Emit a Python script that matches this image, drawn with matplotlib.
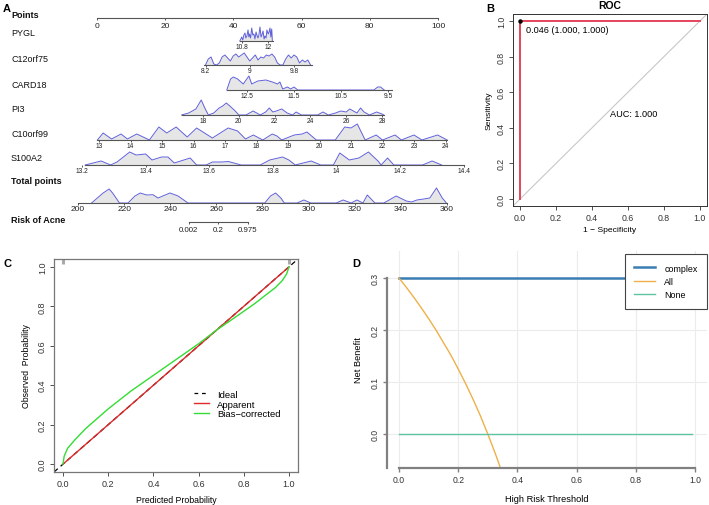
import matplotlib
matplotlib.use("Agg")
import matplotlib.pyplot as plt
from matplotlib.lines import Line2D
from matplotlib.ticker import FormatStrFormatter
import numpy as np

plt.rcParams['font.family'] = ['Liberation Sans', 'DejaVu Sans']

W, H = 709, 506

# ---------------- A: nomogram ----------------
# anchors: (value a, points a, value b, points b)
points_ticks = [0, 20, 40, 60, 80, 100]

pygl_anchor = (10.8, 42.5, 12.0, 50.15)
pygl_range = [10.71, 12.23]
pygl_ticks = [10.8, 12.0]
pygl_labels = ["10.8", "12"]
pygl_x = [10.70, 10.75, 10.79, 10.84, 10.89, 10.94, 10.98, 11.03, 11.08, 11.12, 11.15, 11.20,
          11.25, 11.30, 11.35, 11.40, 11.45, 11.50, 11.54, 11.58, 11.63, 11.68, 11.72, 11.77,
          11.82, 11.86, 11.91, 11.95, 12.01, 12.05, 12.09, 12.13, 12.17, 12.20]
pygl_h = [0, 2, 4, 1, 6, 8, 3, 5, 11, 4, 7, 3, 13, 6, 7, 2, 9, 5, 3, 6, 14, 4, 6, 10,
          2, 5, 3, 11, 7, 9, 13, 4, 12, 0]

c12_anchor = (8.2, 31.82, 9.8, 57.77)
c12_range = [8.18, 10.12]
c12_ticks = [8.2, 9.0, 9.8]
c12_labels = ["8.2", "9", "9.8"]
c12_x = [8.20, 8.25, 8.30, 8.35, 8.40, 8.45, 8.50, 8.55, 8.60, 8.65, 8.70, 8.75, 8.80,
         8.85, 8.90, 8.95, 9.00, 9.05, 9.10, 9.15, 9.20, 9.25, 9.30, 9.35, 9.40, 9.45,
         9.50, 9.55, 9.60, 9.65, 9.70, 9.75, 9.80, 9.85, 9.90, 9.95, 10.00, 10.05, 10.10]
c12_h = [0, 6, 8, 1, 0, 2, 8, 10, 7, 4, 9, 11, 8, 10, 12, 8, 4, 7, 10, 5, 8, 7, 10, 9,
         11, 8, 2, 0, 0, 6, 10, 7, 10, 8, 2, 5, 3, 5, 0]

card_anchor = (12.5, 43.99, 9.5, 85.34)
card_range = [12.93, 9.42]
card_ticks = [12.5, 11.5, 10.5, 9.5]
card_labels = ["12.5", "11.5", "10.5", "9.5"]
card_x = [12.93, 12.85, 12.79, 12.70, 12.58, 12.46, 12.40, 12.27, 12.10, 11.96, 11.85,
          11.80, 11.74, 11.64, 11.57, 11.50, 11.42, 9.80, 9.72, 9.66, 9.58]
card_h = [0, 11, 13, 11, 6, 14, 6, 9, 10, 8, 6, 8, 1, 3, 1, 3, 0, 0, 3, 3, 0]

pi3_anchor = (18, 31.09, 28, 83.58)
pi3_range = [16.8, 28.1]
pi3_ticks = [18, 20, 22, 24, 26, 28]
pi3_labels = ["18", "20", "22", "24", "26", "28"]
pi3_x = [16.8, 17.2, 17.6, 17.9, 18.1, 18.3, 18.6, 18.9, 19.1, 19.3, 19.5, 19.8, 20.0,
         20.4, 20.8, 21.2, 21.5, 21.7, 21.9, 22.1, 22.4, 22.7, 23.0, 23.2, 23.5, 24.0,
         24.4, 24.7, 25.0, 25.4, 25.7, 26.0, 26.2, 26.4, 26.6, 26.8, 27.0, 27.3, 27.7,
         28.0, 28.1]
pi3_h = [0, 2, 6, 15, 7, 0, 2, 7, 9, 12, 9, 4, 0, 0, 4, 0, 3, 7, 3, 4, 6, 2, 0, 3, 0, 0,
         0, 3, 0, 2, 4, 3, 6, 4, 2, 7, 3, 0, 3, 1, 0]

c10_anchor = (13, 0.59, 24, 102.2)
c10_range = [12.94, 24.05]
c10_ticks = list(range(13, 25))
c10_labels = [str(v) for v in c10_ticks]
c10_x = [12.95, 13.13, 13.4, 13.7, 13.9, 14.2, 14.6, 14.9, 15.15, 15.45, 15.8, 16.1, 16.3,
         16.6, 17.1, 17.4, 17.65, 17.9, 18.2, 18.5, 18.65, 18.8, 19.2, 19.45, 19.6, 19.9,
         20.5, 20.8, 21.0, 21.2, 21.45, 21.8, 22.0, 22.4, 22.6, 23.0, 23.25, 23.75, 24.05]
c10_h = [0, 7, 1, 6, 1, 6, 0, 13, 7, 13, 3, 12, 8, 2, 12, 9, 1, 5, 0, 6, 4, 0, 5, 6, 8, 0,
         0, 13, 12, 16, 0, 5, 0, 5, 0, 5, 0, 5, 0]

s100_anchor = (13.2, -4.40, 14.4, 107.6)
s100_range = [13.21, 14.4]
s100_ticks = [13.2, 13.4, 13.6, 13.8, 14.0, 14.2, 14.4]
s100_labels = ["13.2", "13.4", "13.6", "13.8", "14", "14.2", "14.4"]
s100_x = [13.21, 13.26, 13.29, 13.31, 13.35, 13.37, 13.40, 13.42, 13.45, 13.47, 13.49,
          13.54, 13.56, 13.59, 13.61, 13.64, 13.66, 13.70, 13.76, 13.79, 13.83, 13.85,
          13.87, 13.92, 13.95, 13.99, 14.01, 14.04, 14.07, 14.10, 14.13, 14.14, 14.16,
          14.18, 14.27, 14.30, 14.33]
s100_h = [0, 4, 0, 3, 13, 10, 11, 5, 8, 8, 2, 7, 0, 0, 3, 3, 3.5, 0, 0, 5, 8, 5, 0, 4, 0,
          0, 12, 5, 7, 13, 4, 0, 7, 0, 0, 4, 0]

total_anchor = (200, -5.57, 360, 102.6)
total_range = [200, 360]
total_ticks = [200, 220, 240, 260, 280, 300, 320, 340, 360]
total_labels = [str(v) for v in total_ticks]
total_x = [205.9, 210.9, 213.5, 215.0, 218.0, 221.7, 224.7, 227.0, 229.8, 232.5, 234.7,
           239.9, 243.4, 247.7, 281.0, 283.5, 285.7, 288.0, 289.5, 295.0, 298.0, 301.0,
           312.0, 315.0, 318.5, 321.0, 323.6, 325.5, 328.8, 332.7, 338.0, 342.4, 344.7,
           347.0, 350.0, 352.6, 355.5, 358.0, 359.8]
total_h = [0, 10, 14, 10, 0, 0, 7, 10, 8, 8.3, 5, 10, 7, 0, 0, 7, 10, 5, 0, 0, 3, 0, 0, 3,
           0, 3, 0, 8, 0, 0, 7, 2, 1, 3, 4, 5, 15, 5, 0]

risk_total = [248.1, 260.7, 273.7]
risk_labels = ["0.002", "0.2", "0.975"]

# ---------------- B: ROC ----------------
roc_fpr = [0.0, 0.0, 1.0]
roc_tpr = [0.0, 1.0, 1.0]
best_fpr, best_tpr = 0.0, 1.0

# ---------------- C: calibration ----------------
ideal = [0.0, 1.0]
apparent_x = [0.0, 1.0]
apparent_y = [0.0, 1.0]
bias_x = [0.0, 0.005, 0.02, 0.05, 0.1, 0.15, 0.2, 0.3, 0.4, 0.5, 0.6, 0.68, 0.75, 0.8,
          0.85, 0.9, 0.94, 0.97, 0.99, 1.0]
bias_y = [0.0, 0.04, 0.08, 0.12, 0.18, 0.23, 0.28, 0.37, 0.45, 0.53, 0.61, 0.68, 0.735,
          0.775, 0.815, 0.86, 0.895, 0.93, 0.965, 1.0]
rug_x = [0.0, 1.0]

# ---------------- D: decision curve ----------------
thr_all = [0.0, 0.025, 0.05, 0.075, 0.1, 0.125, 0.15, 0.175, 0.2, 0.225, 0.25, 0.275,
           0.3, 0.325, 0.35]
nb_all = [0.300, 0.282, 0.263, 0.243, 0.222, 0.200, 0.176, 0.152, 0.125, 0.097, 0.067,
          0.035, 0.0, -0.037, -0.077]
thr_line = [0.0, 0.99]
nb_complex = [0.3, 0.3]
nb_none = [0.0, 0.0]


def rect(x0, y0, x1, y1):
    return [x0 / W, 1 - y1 / H, (x1 - x0) / W, (y1 - y0) / H]


def scale(v, anchor):
    va, pa, vb, pb = anchor
    return pa + (np.asarray(v, float) - va) * (pb - pa) / (vb - va)


def px2pts(px):
    return (px - 97) / 3.41


fig = plt.figure(figsize=(W / 100, H / 100), dpi=100)

# ================= Panel A =================
axa = fig.add_axes(rect(0, 0, 470, 245))
axa.set_xlim(px2pts(0), px2pts(470))
axa.set_ylim(245, 0)
axa.axis('off')

line_col = "#555555"
dens_col = "#6060dc"
fill_col = "#e6e6e6"


def draw_row(y0, anchor, line_range, ticks, labels, dx=None, dh=None, fs=4.8, lab_dy=2.3):
    if dx is not None:
        xd = scale(dx, anchor)
        yd = y0 - np.asarray(dh, float)
        axa.fill_between(xd, y0, yd, color=fill_col, lw=0)
        axa.plot(xd, yd, color=dens_col, lw=0.7)
    xl = scale(line_range, anchor)
    axa.plot(xl, [y0, y0], color=line_col, lw=0.8)
    xt = scale(ticks, anchor)
    axa.vlines(xt, y0, y0 + 1.8, color=line_col, lw=0.7)
    for x, lab in zip(xt, labels):
        axa.text(x, y0 + lab_dy, lab, ha='center', va='top', fontsize=fs, color='#222222')


draw_row(19, (0, 0, 100, 100), [0, 100], points_ticks, [str(v) for v in points_ticks],
         fs=6.0, lab_dy=3.5)
draw_row(42, pygl_anchor, pygl_range, pygl_ticks, pygl_labels, pygl_x, pygl_h)
draw_row(66, c12_anchor, c12_range, c12_ticks, c12_labels, c12_x, c12_h)
draw_row(91, card_anchor, card_range, card_ticks, card_labels, card_x, card_h)
draw_row(116, pi3_anchor, pi3_range, pi3_ticks, pi3_labels, pi3_x, pi3_h)
draw_row(141, c10_anchor, c10_range, c10_ticks, c10_labels, c10_x, c10_h)
draw_row(166, s100_anchor, s100_range, s100_ticks, s100_labels, s100_x, s100_h)
draw_row(204, total_anchor, total_range, total_ticks, total_labels, total_x, total_h,
         fs=6.0, lab_dy=2)
draw_row(223, total_anchor, [risk_total[0], risk_total[-1]], risk_total, risk_labels,
         fs=5.7, lab_dy=4)

row_names = ["Points", "PYGL", "C12orf75", "CARD18", "PI3", "C10orf99", "S100A2",
             "Total points", "Risk of Acne"]
row_label_y = [16, 34, 60, 85, 110, 135, 159, 182, 221]
row_bold = [True, False, False, False, False, False, False, True, True]
for name, yy, b in zip(row_names, row_label_y, row_bold):
    axa.text(px2pts(11), yy, name, ha='left', va='center', fontsize=6.5,
             fontweight='bold' if b else 'normal', color='#111111')

# panel letters
fig.text(3 / W, 1 - 9 / H, "A", fontsize=8, fontweight='bold', va='center', ha='left')
fig.text(486 / W, 1 - 9 / H, "B", fontsize=8, fontweight='bold', va='center', ha='left')
fig.text(4 / W, 1 - 264 / H, "C", fontsize=8, fontweight='bold', va='center', ha='left')
fig.text(352 / W, 1 - 264 / H, "D", fontsize=8, fontweight='bold', va='center', ha='left')

# ================= Panel B =================
axb = fig.add_axes(rect(513, 15, 707, 207))
axb.axline((0, 0), (1, 1), color='#c8c8c8', lw=0.8)
axb.plot(roc_fpr, roc_tpr, color='#e3445c', lw=1.4)
axb.plot([best_fpr], [best_tpr], 'o', color='black', ms=2.2)
axb.text(0.03, 0.955, "0.046 (1.000, 1.000)", fontsize=6.6, ha='left', va='center')
axb.text(0.50, 0.478, "AUC: 1.000", fontsize=6.6, ha='left', va='center')
axb.set_xlim(-0.04, 1.04)
axb.set_ylim(-0.04, 1.04)
ticks = [0.0, 0.2, 0.4, 0.6, 0.8, 1.0]
axb.set_xticks(ticks)
axb.set_yticks(ticks)
axb.xaxis.set_major_formatter(FormatStrFormatter('%.1f'))
axb.yaxis.set_major_formatter(FormatStrFormatter('%.1f'))
axb.tick_params(labelsize=6.3, length=3, width=0.6, pad=2, colors='#333333')
for t in axb.get_yticklabels():
    t.set_rotation(90)
    t.set_va('center')
axb.set_title("ROC", fontsize=7.5, fontweight='bold', pad=4)
axb.set_xlabel("1 \u2212 Specificity", fontsize=6.1, labelpad=3)
axb.set_ylabel("Sensitivity", fontsize=6.1, labelpad=3)
for s in axb.spines.values():
    s.set_color('#333333')
    s.set_linewidth(0.7)

# ================= Panel C =================
axc = fig.add_axes(rect(54, 260, 298, 473))
axc.axline((ideal[0], ideal[0]), (ideal[1], ideal[1]), color='black', lw=0.9,
           ls=(0, (4, 3)))
axc.plot(apparent_x, apparent_y, color='#e02a2a', lw=1.0)
axc.plot(bias_x, bias_y, color='#33dd33', lw=1.0)
axc.vlines(rug_x, 1.015, 1.04, color='#aaaaaa', lw=2.2)
axc.set_xlim(-0.04, 1.04)
axc.set_ylim(-0.04, 1.04)
axc.set_xticks(ticks)
axc.set_yticks(ticks)
axc.xaxis.set_major_formatter(FormatStrFormatter('%.1f'))
axc.yaxis.set_major_formatter(FormatStrFormatter('%.1f'))
axc.tick_params(labelsize=6.5, length=3, width=0.6, pad=2, colors='#333333')
for t in axc.get_yticklabels():
    t.set_rotation(90)
    t.set_va('center')
axc.set_xlabel("Predicted Probability", fontsize=6.3, labelpad=5)
axc.set_ylabel("Observed  Probability", fontsize=6.3, labelpad=5)
for s in axc.spines.values():
    s.set_color('#777777')
    s.set_linewidth(0.9)
hc = [Line2D([], [], color='black', lw=0.9, ls=(0, (3, 3))),
      Line2D([], [], color='#e02a2a', lw=1.0),
      Line2D([], [], color='#33dd33', lw=1.0)]
axc.legend(hc, ["Ideal", "Apparent", "Bias\u2212corrected"], loc='upper left',
           bbox_to_anchor=(0.581, 0.378), bbox_transform=axc.transData, frameon=False,
           fontsize=6.8, handlelength=1.6, handletextpad=0.85, labelspacing=0.1,
           borderpad=0, borderaxespad=0)

# ================= Panel D =================
axd = fig.add_axes(rect(387, 252, 707, 469))
axd.set_xlim(-0.0405, 1.0405)
axd.set_ylim(-0.0654, 0.352)
axd.set_xticks(ticks)
axd.set_yticks([0.0, 0.1, 0.2, 0.3])
axd.xaxis.set_major_formatter(FormatStrFormatter('%.1f'))
axd.yaxis.set_major_formatter(FormatStrFormatter('%.1f'))
axd.grid(True, color='#ececec', lw=0.8)
axd.set_axisbelow(True)
axd.plot(thr_line, nb_complex, color='#3a7db3', lw=1.8)
axd.plot(thr_all, nb_all, color='#eeb04a', lw=1.0)
axd.plot(thr_line, nb_none, color='#5cc4a0', lw=1.0)
for side in ['top', 'right']:
    axd.spines[side].set_visible(False)
for side in ['left', 'bottom']:
    axd.spines[side].set_color('#808080')
    axd.spines[side].set_linewidth(1.6)
axd.spines['left'].set_bounds(-0.0654, 0.3)
axd.spines['bottom'].set_bounds(0, 1)
axd.tick_params(labelsize=6.2, length=3, width=1.0, pad=2, colors='#808080',
                labelcolor='#333333')
for t in axd.get_yticklabels():
    t.set_rotation(90)
    t.set_va('center')
axd.set_xlabel("High Risk Threshold", fontsize=6.7, labelpad=7)
axd.set_ylabel("Net Benefit", fontsize=6.7, labelpad=6)
hd = [Line2D([], [], color='#3a7db3', lw=1.8),
      Line2D([], [], color='#eeb04a', lw=1.0),
      Line2D([], [], color='#5cc4a0', lw=1.0)]
leg = axd.legend(hd, ["complex", "All", "None"], loc='upper right',
                 bbox_to_anchor=(1.0, 0.985), fontsize=6.4, handlelength=2.3,
                 handletextpad=1.1, borderpad=1.05, labelspacing=0.5, borderaxespad=0,
                 fancybox=False, framealpha=1)
leg.get_frame().set_edgecolor('#444444')
leg.get_frame().set_linewidth(0.8)

fig.savefig("out.png", dpi=100)
